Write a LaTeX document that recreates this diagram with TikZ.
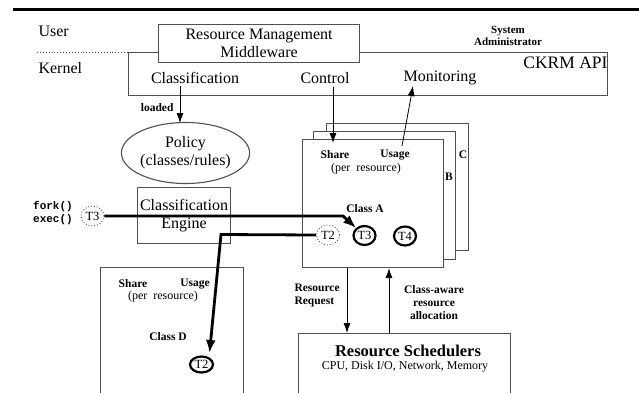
\documentclass[tikz,border=0pt]{standalone}
\usepackage{fontspec}
\setmainfont{Liberation Serif}
\setmonofont{Liberation Mono}
\usetikzlibrary{shapes.geometric,arrows.meta}
\definecolor{boxgray}{HTML}{505050}
\begin{document}
\begin{tikzpicture}[x=1pt,y=-1pt,
  rbox/.style={draw=boxgray,line width=1.1pt,fill=white,inner sep=0pt,anchor=north west},
  big/.style={font=\fontsize{16}{18}\selectfont},
  lbl/.style={font=\bfseries\fontsize{11.5}{13}\selectfont},
  sml/.style={font=\fontsize{12}{13}\selectfont},
  thinarrow/.style={line width=0.8pt,-{Latex[length=10pt,width=7pt]}},
  thickarrow/.style={line width=2.8pt,-{Latex[length=13pt,width=10pt]}},
  thr/.style={ellipse,draw,line width=2.2pt,minimum width=22pt,minimum height=19pt,inner sep=0pt,font=\fontsize{12.5}{13}\selectfont},
  dthr/.style={ellipse,draw=boxgray,dotted,line width=0.9pt,minimum width=23pt,minimum height=20pt,inner sep=0pt,font=\fontsize{12.5}{13}\selectfont}
]
\useasboundingbox (0,0) rectangle (639,392);
\draw[line width=3pt] (13,9) -- (639,9);

\node[big,anchor=west] (user) at (35,31) {User};
\node[big,anchor=west] (kernel) at (35,68) {Kernel};
\coordinate (sepL) at (37,52);
\node[rbox,minimum width=479,minimum height=43] (api) at (128,52) {};
\draw[dotted,boxgray,line width=0.9pt] (sepL) -- (api.north west);
\node[rbox,minimum width=201,minimum height=38,big,align=center] (mw) at (158,24) {Resource Management\\Middleware};
\node[big,anchor=east,font=\fontsize{17.5}{18}\selectfont] (ckrm) at (611,63) {CKRM API};
\node[big] (cls) at (195,78) {Classification};
\node[big] (ctl) at (325,78) {Control};
\node[big] (mon) at (440,78) {Monitoring};
\node[font=\bfseries\fontsize{11}{12}\selectfont,align=center] (sysadm) at (508,36) {System\\Administrator};

\node[ellipse,draw=boxgray,line width=1.1pt,minimum width=103pt,minimum height=61pt,inner sep=0pt,big,align=center] (pol) at (185.5,153) {Policy\\(classes/rules)};
\coordinate (ld1) at (180,86);
\coordinate (ld2) at (180,123);
\draw[thinarrow] (ld1) -- (ld2);
\node[lbl,anchor=east] (loaded) at (177,108) {loaded};

\node[rbox,minimum width=93,minimum height=56,big,align=center] (eng) at (137,187) {Classification\\Engine};

\node[font=\ttfamily\bfseries\fontsize{11}{13}\selectfont,align=left] (fe) at (53,213.5) {fork()\\exec()};
\node[dthr] (t3d) at (92.5,216) {T3};

% stacked class boxes
\node[rbox,minimum width=142,minimum height=127] (bxC) at (326,123) {};
\node[lbl] (lc) at (463,155) {C};
\node[rbox,minimum width=142,minimum height=128] (bxB) at (313,131) {};
\node[lbl] (lb) at (449,177) {B};
\node[rbox,minimum width=141,minimum height=128] (bxA) at (302,139) {};
\node[lbl] (shA) at (335,155) {Share};
\node[lbl] (usA) at (395,155) {Usage};
\node[sml] (prA) at (366,169) {(per\ \ resource)};
\node[lbl] (clA) at (365,209) {Class A};

% class D box
\node[rbox,minimum width=143,minimum height=130] (bxD) at (100,267) {};
\node[lbl] (shD) at (133,284) {Share};
\node[lbl] (usD) at (195,284) {Usage};
\node[sml] (prD) at (163,297) {(per\ \ resource)};
\node[lbl] (clD) at (168,337) {Class D};

% resource schedulers
\node[rbox,minimum width=212,minimum height=62] (rs) at (298,333) {};
\node[font=\bfseries\fontsize{16.5}{18}\selectfont] (rst) at (408,351) {Resource Schedulers};
\node[sml] (rss) at (405,367) {CPU, Disk I/O, Network, Memory};

% threads
\node[thr,fill=white] (t3a) at (364.5,235.5) {T3};
\node[thr,fill=white] (t4a) at (405,236) {T4};
\node[dthr,fill=white] (t2d) at (328,235) {T2};
\node[thr,fill=white,minimum width=23pt,minimum height=16pt] (t2D) at (201.5,364.5) {T2};

% thick moves
\coordinate (k1) at (343,216);
\draw[thickarrow] (t3d.east) -- (k1) -- (t3a);
\coordinate (k2) at (221,234.5);
\coordinate (k3) at (209.5,353);
\draw[thickarrow] (t2d.west) -- (k2) -- (k3);

% control / usage
\coordinate (c1) at (333,143);
\draw[thinarrow] (333,0 |- ctl.south) -- (c1);
\coordinate (u1) at (402,146);
\coordinate (u2) at (413,86);
\draw[thinarrow] (u1) -- (u2);

% request / allocation
\draw[thinarrow] (347,0 |- bxA.south) -- (347,0 |- rs.north);
\draw[thinarrow] (389,0 |- rs.north) -- (389,0 |- bxA.south);
\node[lbl,align=left,anchor=west] (rr) at (291,295) {Resource\\Request};
\node[lbl,align=center] (ca) at (434,302.5) {Class-aware\\resource\\allocation};
\end{tikzpicture}
\end{document}
